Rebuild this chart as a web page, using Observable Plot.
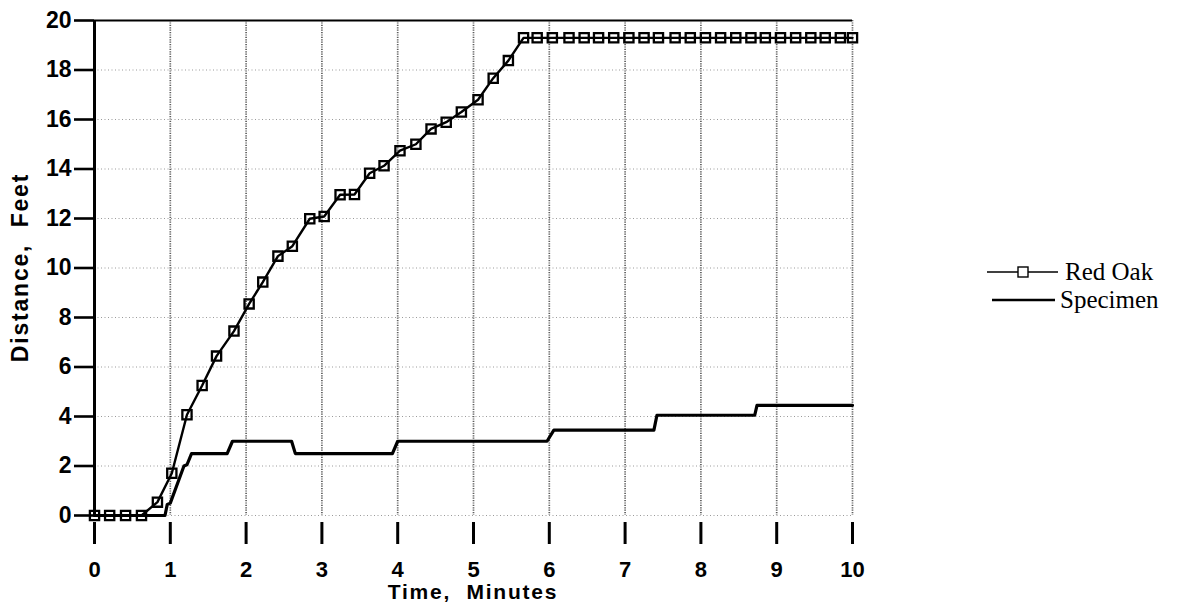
<!DOCTYPE html>
<html>
<head>
<meta charset="utf-8">
<script src="https://cdn.jsdelivr.net/npm/d3@7"></script>
<script src="https://cdn.jsdelivr.net/npm/@observablehq/plot@0.6"></script>
<style>
  html, body { margin: 0; padding: 0; background: white; }
  #wrap { position: relative; width: 1179px; height: 604px; overflow: hidden; }
  #legend { position: absolute; left: 985px; top: 258px; font-family: "Liberation Serif", "Times New Roman", serif; font-size: 25px; color: black; line-height: 28px; }
  #legend .row { display: flex; align-items: center; height: 28px; white-space: nowrap; }
</style>
</head>
<body>
<div id="wrap">
  <div id="chart"></div>
  <div id="legend">
    <div class="row"><svg width="80" height="16"><line x1="2" y1="8" x2="73" y2="8" stroke="black" stroke-width="1.6"/><rect x="33" y="3" width="10" height="10" fill="white" stroke="black" stroke-width="1.4"/></svg><span>Red Oak</span></div>
    <div class="row"><svg width="75" height="16"><line x1="7" y1="8" x2="70" y2="8" stroke="black" stroke-width="2.6"/></svg><span>Specimen</span></div>
  </div>
</div>
<script>
const xTicks = [0, 1, 2, 3, 4, 5, 6, 7, 8, 9, 10];
const yTicks = [0, 2, 4, 6, 8, 10, 12, 14, 16, 18, 20];

const redOakTime = [0, 0.2, 0.41, 0.62, 0.83, 1.02, 1.22, 1.42, 1.61, 1.84, 2.04, 2.22, 2.42, 2.61, 2.84, 3.03, 3.24, 3.43, 3.63, 3.82, 4.03, 4.24, 4.44, 4.64, 4.84, 5.06, 5.26, 5.46, 5.66, 5.84, 6.04, 6.26, 6.46, 6.65, 6.85, 7.05, 7.25, 7.44, 7.66, 7.86, 8.06, 8.26, 8.46, 8.66, 8.85, 9.05, 9.25, 9.45, 9.64, 9.84, 10.0];
const redOakDist = [0, 0, 0, 0, 0.54, 1.71, 4.07, 5.25, 6.44, 7.45, 8.55, 9.43, 10.48, 10.88, 11.99, 12.08, 12.96, 12.97, 13.83, 14.13, 14.74, 15.0, 15.62, 15.89, 16.3, 16.8, 17.67, 18.38, 19.3, 19.3, 19.3, 19.3, 19.3, 19.3, 19.3, 19.3, 19.3, 19.3, 19.3, 19.3, 19.3, 19.3, 19.3, 19.3, 19.3, 19.3, 19.3, 19.3, 19.3, 19.3, 19.3];

const specTime = [0, 0.93, 0.96, 1.0, 1.18, 1.22, 1.28, 1.75, 1.82, 2.6, 2.65, 3.93, 4.0, 5.97, 6.06, 7.38, 7.42, 8.71, 8.74, 10.0];
const specDist = [0, 0, 0.45, 0.5, 2.0, 2.05, 2.5, 2.5, 3.0, 3.0, 2.5, 2.5, 3.0, 3.0, 3.45, 3.45, 4.05, 4.05, 4.45, 4.45];

const redOak = redOakTime.map((t, i) => ({t, d: redOakDist[i]}));
const specimen = specTime.map((t, i) => ({t, d: specDist[i]}));

const font = "Liberation Sans, Arial, Helvetica, sans-serif";

const plot = Plot.plot({
  width: 1179,
  height: 604,
  marginLeft: 94,
  marginRight: 327,
  marginTop: 20,
  marginBottom: 89,
  x: {domain: [0, 10]},
  y: {domain: [0, 20]},
  style: {fontFamily: font, fontWeight: "bold", fontSize: "22px", background: "white", color: "black", overflow: "visible"},
  marks: [
    Plot.gridX(xTicks, {stroke: "#5e5e5e", strokeOpacity: 1, strokeDasharray: "1.2,1.2", strokeWidth: 1.7}),
    Plot.gridY(yTicks, {stroke: "#9a9a9a", strokeOpacity: 1, strokeDasharray: "1,2.5", strokeWidth: 1}),
    Plot.ruleY([20], {stroke: "black", strokeWidth: 2.2}),
    Plot.ruleX([0], {stroke: "black", strokeWidth: 3}),
    Plot.axisX(xTicks, {tickSize: 22, dy: 7, tickPadding: 17, strokeWidth: 3, label: null, fontSize: 22, fontWeight: "bold", tickFormat: d => String(d)}),
    Plot.axisY(yTicks, {tickSize: 20, tickPadding: 3, strokeWidth: 2.6, label: null, fontSize: 23, fontWeight: "bold", tickFormat: d => String(d)}),
    Plot.line(specimen, {x: "t", y: "d", stroke: "black", strokeWidth: 3.2}),
    Plot.line(redOak, {x: "t", y: "d", stroke: "black", strokeWidth: 2.4}),
    Plot.dot(redOak, {x: "t", y: "d", symbol: "square", r: 5.2, stroke: "black", strokeWidth: 2.3, fill: "none"})
  ]
});

document.getElementById("chart").appendChild(plot);

// axis titles
const sx = plot.scale("x"), sy = plot.scale("y");
const svg = d3.select(plot);
const cx = (sx.apply(0) + sx.apply(10)) / 2;
const cy = (sy.apply(0) + sy.apply(20)) / 2;
svg.append("text")
  .attr("x", cx).attr("y", 599)
  .attr("text-anchor", "middle")
  .attr("font-family", font).attr("font-weight", "bold").attr("font-size", 21)
  .attr("letter-spacing", "1.8px")
  .attr("xml:space", "preserve")
  .text("Time,  Minutes");
svg.append("text")
  .attr("transform", `translate(28,${cy}) rotate(-90)`)
  .attr("text-anchor", "middle")
  .attr("font-family", font).attr("font-weight", "bold").attr("font-size", 23)
  .attr("letter-spacing", "1.8px")
  .attr("xml:space", "preserve")
  .text("Distance,  Feet");
</script>
</body>
</html>
